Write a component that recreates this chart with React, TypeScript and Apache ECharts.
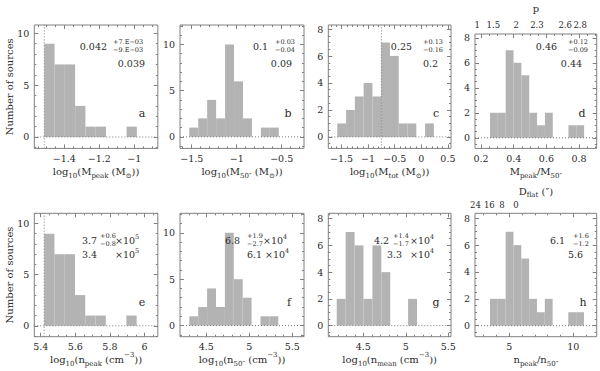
import { useEffect, useRef } from 'react';
import * as echarts from 'echarts';

const FONT = "'DejaVu Serif', serif";
const TEXT = '#2b2b2b';
const FRAME = '#808080';
const BAR = '#b3b3b3';
const DOT = '#7a7a7a';

// ---------- data ----------
const panelLetters = ['a', 'b', 'c', 'd', 'e', 'f', 'g', 'h'];

const countsA = [9, 7, 7, 3, 1, 1, 0, 0, 1];
const countsB = [1, 2, 4, 2, 10, 6, 2, 0, 1, 1];
const countsC = [1, 2, 3, 4, 3, 7, 6, 1, 1, 0, 1];
const countsD = [2, 2, 7, 6, 5, 2, 1, 2, 0, 0, 1, 1];
const countsE = [9, 7, 7, 3, 1, 1, 0, 0, 1];
const countsF = [1, 2, 4, 2, 10, 5, 3, 0, 1, 1];
const countsG = [2, 7, 6, 2, 6, 4, 0, 0, 2];
const countsH = [2, 2, 7, 6, 5, 2, 1, 2, 0, 0, 1, 1];
const histCounts = [countsA, countsB, countsC, countsD, countsE, countsF, countsG, countsH];

const binStarts = [-1.514, -1.527, -1.579, 0.255, 5.42, 4.303, 4.187, 3.49];
const binWidths = [0.0587, 0.0995, 0.165, 0.048, 0.0594, 0.1035, 0.105, 0.612];

const xMins = [-1.571, -1.63, -1.748, 0.163, 5.363, 4.195, 4.088, 2.32];
const xMaxs = [-0.866, -0.252, 0.558, 0.908, 6.077, 5.637, 5.532, 11.83];
const yMins = [-1.1, -1.25, -0.85, -0.85, -1.07, -1.2, -0.83, -0.82];
const yMaxs = [10.8, 12.1, 8.3, 8.3, 11.0, 12.1, 8.4, 8.37];

const xTicksA = [-1.4, -1.2, -1];
const xTicksB = [-1.5, -1, -0.5];
const xTicksC = [-1.5, -1, -0.5, 0, 0.5];
const xTicksD = [0.2, 0.4, 0.6, 0.8];
const xTicksE = [5.4, 5.6, 5.8, 6];
const xTicksF = [4.5, 5, 5.5];
const xTicksG = [4.5, 5, 5.5];
const xTicksH = [5, 10];
const xTicks = [xTicksA, xTicksB, xTicksC, xTicksD, xTicksE, xTicksF, xTicksG, xTicksH];
const yTicksWide = [0, 5, 10];
const yTicksNarrow = [0, 2, 4, 6, 8];
const yTicks = [yTicksWide, yTicksWide, yTicksNarrow, yTicksNarrow, yTicksWide, yTicksWide, yTicksNarrow, yTicksNarrow];
const xMinorSteps = [0.05, 0.1, 0.1, 0.05, 0.05, 0.1, 0.1, 1];
const yMinorSteps = [1, 1, 0.5, 0.5, 1, 1, 0.5, 0.5];

const refLines: (number | null)[] = [-1.514, null, -0.75, null, 5.42, null, null, null];

const pTickPos = [0.177, 0.275, 0.415, 0.542, 0.715, 0.807];
const pTickLabels = ['1', '1.5', '2', '2.3', '2.6', '2.8'];
const dflatTickPos = [2.35, 3.44, 4.43, 5.52];
const dflatTickLabels = ['24', '16', '8', '0'];

const xTitles = [
  'log{s|10}(M{s|peak} (M{s|⊙}))',
  'log{s|10}(M{s|50″} (M{s|⊙}))',
  'log{s|10}(M{s|tot} (M{s|⊙}))',
  'M{s|peak}/M{s|50″}',
  'log{s|10}(n{s|peak} (cm{p|−3}))',
  'log{s|10}(n{s|50″} (cm{p|−3}))',
  'log{s|10}(n{s|mean} (cm{p|−3}))',
  'n{s|peak}/n{s|50″}',
];

const meanVals = ['0.042', '0.1', '0.25', '0.46', '3.7', '6.8', '4.2', '6.1'];
const plusErrs = ['+7.E−03', '+0.03', '+0.13', '+0.12', '+0.6', '+1.9', '+1.4', '+1.6'];
const minusErrs = ['−9.E−03', '−0.04', '−0.16', '−0.09', '−0.8', '−2.7', '−1.7', '−1.2'];
const medianVals = ['0.039', '0.09', '0.2', '0.44', '3.4', '6.1', '3.3', '5.6'];
const powers = ['', '', '', '', '5', '4', '4', ''];

// ---------- layout ----------
const COL_LEFT = [34.3, 180, 328.3, 475];
const COL_WIDTH = [123.5, 124, 122.7, 121.7];
const ROW_TOP = [25, 213.3];
const GRID_H = 123.4;

const ANNOT = [
  { mainR: 107, errL: 113, medR: 145, timesL: 0, medTimesL: 0, letterX: 142 },
  { mainR: 268, errL: 275, medR: 292, timesL: 0, medTimesL: 0, letterX: 288 },
  { mainR: 412, errL: 423, medR: 438, timesL: 0, medTimesL: 0, letterX: 436 },
  { mainR: 557, errL: 568, medR: 582, timesL: 0, medTimesL: 0, letterX: 582 },
  { mainR: 97, errL: 100, medR: 97, timesL: 115, medTimesL: 115, letterX: 142 },
  { mainR: 240, errL: 247, medR: 262, timesL: 263, medTimesL: 265, letterX: 289 },
  { mainR: 389, errL: 393, medR: 402, timesL: 410, medTimesL: 410, letterX: 436 },
  { mainR: 565, errL: 573, medR: 583, timesL: 0, medTimesL: 0, letterX: 583 },
];
const ROW_Y1 = [46, 240];
const ROW_Y2 = [63, 254];
const ROW_LETTER_Y = [113, 302];

const fmt = (v: number) => String(Math.round(v * 1000) / 1000).replace('-', '\u2212');

function stepValues(min: number, max: number, step: number) {
  const out: number[] = [];
  const s = Math.ceil(min / step - 1e-9);
  for (let k = s; k * step <= max + 1e-9; k++) out.push(+(k * step).toFixed(6));
  return out;
}

const renderHist = (_params: any, api: any) => {
  const lo = api.coord([api.value(0), 0]);
  const hi = api.coord([api.value(1), api.value(2)]);
  return {
    type: 'rect',
    shape: { x: lo[0], y: hi[1], width: hi[0] - lo[0], height: lo[1] - hi[1] },
    style: { fill: BAR },
  };
};

const richSub = {
  s: { fontSize: 7, lineHeight: 9, verticalAlign: 'bottom', fontFamily: FONT, color: TEXT },
  p: { fontSize: 7, lineHeight: 9, verticalAlign: 'top', fontFamily: FONT, color: TEXT },
};

function buildOption() {
  const grid: any[] = [];
  const xAxis: any[] = [];
  const yAxis: any[] = [];
  const series: any[] = [];
  const graphic: any[] = [];

  for (let i = 0; i < 8; i++) {
    const col = i % 4;
    const row = Math.floor(i / 4);
    grid.push({
      left: COL_LEFT[col], top: ROW_TOP[row], width: COL_WIDTH[col], height: GRID_H,
      show: true, borderColor: FRAME, borderWidth: 1, backgroundColor: 'transparent',
    });
    const xMinor = stepValues(xMins[i], xMaxs[i], xMinorSteps[i]);
    const yMinor = stepValues(yMins[i], yMaxs[i], yMinorSteps[i]);
    const xBase = {
      type: 'value', gridIndex: i, min: xMins[i], max: xMaxs[i], nameMoveOverlap: false,
      axisLine: { show: false, onZero: false }, splitLine: { show: false }, axisLabel: { show: false },
    };
    const yBase = {
      type: 'value', gridIndex: i, min: yMins[i], max: yMaxs[i], nameMoveOverlap: false,
      axisLine: { show: false, onZero: false }, splitLine: { show: false }, axisLabel: { show: false },
    };
    const tick = (len: number, vals: number[]) => ({
      show: true, inside: true, length: len, customValues: vals, lineStyle: { color: FRAME, width: 1 },
    });
    const xi = xAxis.length;
    xAxis.push({
      ...xBase, position: 'bottom',
      axisTick: tick(4, xTicks[i]),
      axisLabel: {
        show: true, customValues: xTicks[i], formatter: fmt, margin: 5,
        color: TEXT, fontFamily: FONT, fontSize: 9.5,
      },
      name: xTitles[i], nameLocation: 'middle', nameGap: 15,
      nameTextStyle: { color: TEXT, fontFamily: FONT, fontSize: 10, lineHeight: 16, rich: richSub },
    });
    xAxis.push({ ...xBase, position: 'bottom', axisTick: tick(2, xMinor) });
    xAxis.push({ ...xBase, position: 'top', axisTick: tick(4, xTicks[i]) });
    xAxis.push({ ...xBase, position: 'top', axisTick: tick(2, xMinor) });
    if (i === 3 || i === 7) {
      const pos = i === 3 ? pTickPos : dflatTickPos;
      const lbl = i === 3 ? pTickLabels : dflatTickLabels;
      xAxis.push({
        ...xBase, position: 'top', axisTick: { show: false },
        axisLabel: {
          show: true, customValues: pos, margin: i === 3 ? 5 : 4, color: TEXT, fontFamily: FONT, fontSize: 8.5,
          formatter: (v: number) => {
            let best = 0;
            pos.forEach((p, k) => { if (Math.abs(p - v) < Math.abs(pos[best] - v)) best = k; });
            return lbl[best];
          },
        },
        name: i === 3 ? 'p' : 'D{s|flat} (″)', nameLocation: 'middle', nameGap: i === 3 ? 19 : 15,
        nameTextStyle: { color: TEXT, fontFamily: FONT, fontSize: 10, lineHeight: 14, rich: richSub },
      });
    }
    const yi = yAxis.length;
    yAxis.push({
      ...yBase, position: 'left',
      axisTick: tick(4, yTicks[i]),
      axisLabel: { show: true, customValues: yTicks[i], margin: 5, color: TEXT, fontFamily: FONT, fontSize: 9.5 },
      ...(col === 0
        ? {
            name: 'Number of sources', nameLocation: 'middle', nameGap: 20,
            nameTextStyle: { color: TEXT, fontFamily: FONT, fontSize: 10 },
          }
        : {}),
    });
    yAxis.push({ ...yBase, position: 'left', axisTick: tick(2, yMinor) });
    yAxis.push({ ...yBase, position: 'right', axisTick: tick(4, yTicks[i]) });
    yAxis.push({ ...yBase, position: 'right', axisTick: tick(2, yMinor) });

    const data = histCounts[i]
      .map((c, k) => [binStarts[i] + k * binWidths[i], binStarts[i] + (k + 1) * binWidths[i], c])
      .filter((d) => d[2] > 0);
    series.push({
      type: 'custom', xAxisIndex: xi, yAxisIndex: yi, renderItem: renderHist, data,
      encode: { x: [0, 1], y: 2 }, silent: true, z: 2,
    });
    series.push({
      type: 'line', xAxisIndex: xi, yAxisIndex: yi, data: [[xMins[i], 0], [xMaxs[i], 0]],
      symbol: 'none', silent: true, z: 3,
      lineStyle: { color: DOT, width: 1, type: [1, 2] },
    });
    const rl = refLines[i];
    if (rl !== null) {
      series.push({
        type: 'line', xAxisIndex: xi, yAxisIndex: yi, data: [[rl, yMins[i]], [rl, yMaxs[i]]],
        symbol: 'none', silent: true, z: 3,
        lineStyle: { color: DOT, width: 1, type: [1, 2] },
      });
    }

    // annotations
    const a = ANNOT[i];
    const y1 = ROW_Y1[row];
    const y2 = ROW_Y2[row];
    const base = { fill: TEXT, fontFamily: FONT, verticalAlign: 'middle' };
    const z = 20;
    graphic.push({ type: 'text', z, x: a.mainR, y: y1, style: { ...base, text: meanVals[i], fontSize: 9.5, align: 'right' } });
    graphic.push({ type: 'text', z, x: a.errL, y: y1 - 4, style: { ...base, text: plusErrs[i], fontSize: 6.5, align: 'left' } });
    graphic.push({ type: 'text', z, x: a.errL, y: y1 + 4, style: { ...base, text: minusErrs[i], fontSize: 6.5, align: 'left' } });
    graphic.push({ type: 'text', z, x: a.medR, y: y2, style: { ...base, text: medianVals[i], fontSize: 9.5, align: 'right' } });
    if (powers[i]) {
      const rich = { p: { fontSize: 6.5, lineHeight: 8, verticalAlign: 'top', fontFamily: FONT, fill: TEXT } };
      graphic.push({ type: 'text', z, x: a.timesL, y: y1, style: { ...base, text: '×10{p|' + powers[i] + '}', fontSize: 9.5, lineHeight: 14, align: 'left', rich } });
      graphic.push({ type: 'text', z, x: a.medTimesL, y: y2, style: { ...base, text: '×10{p|' + powers[i] + '}', fontSize: 9.5, lineHeight: 14, align: 'left', rich } });
    }
    graphic.push({ type: 'text', z, x: a.letterX, y: ROW_LETTER_Y[row], style: { ...base, text: panelLetters[i], fontSize: 11, align: 'center' } });
  }

  return { animation: false, backgroundColor: '#ffffff', grid, xAxis, yAxis, series, graphic };
}

export default function App() {
  const ref = useRef<HTMLDivElement>(null);
  useEffect(() => {
    if (!ref.current) return;
    const chart = echarts.init(ref.current, undefined, { renderer: 'svg' });
    chart.setOption(buildOption() as any);
    return () => chart.dispose();
  }, []);
  return <div ref={ref} style={{ position: 'fixed', left: 0, top: 0, width: 600, height: 371, background: '#fff' }} />;
}
